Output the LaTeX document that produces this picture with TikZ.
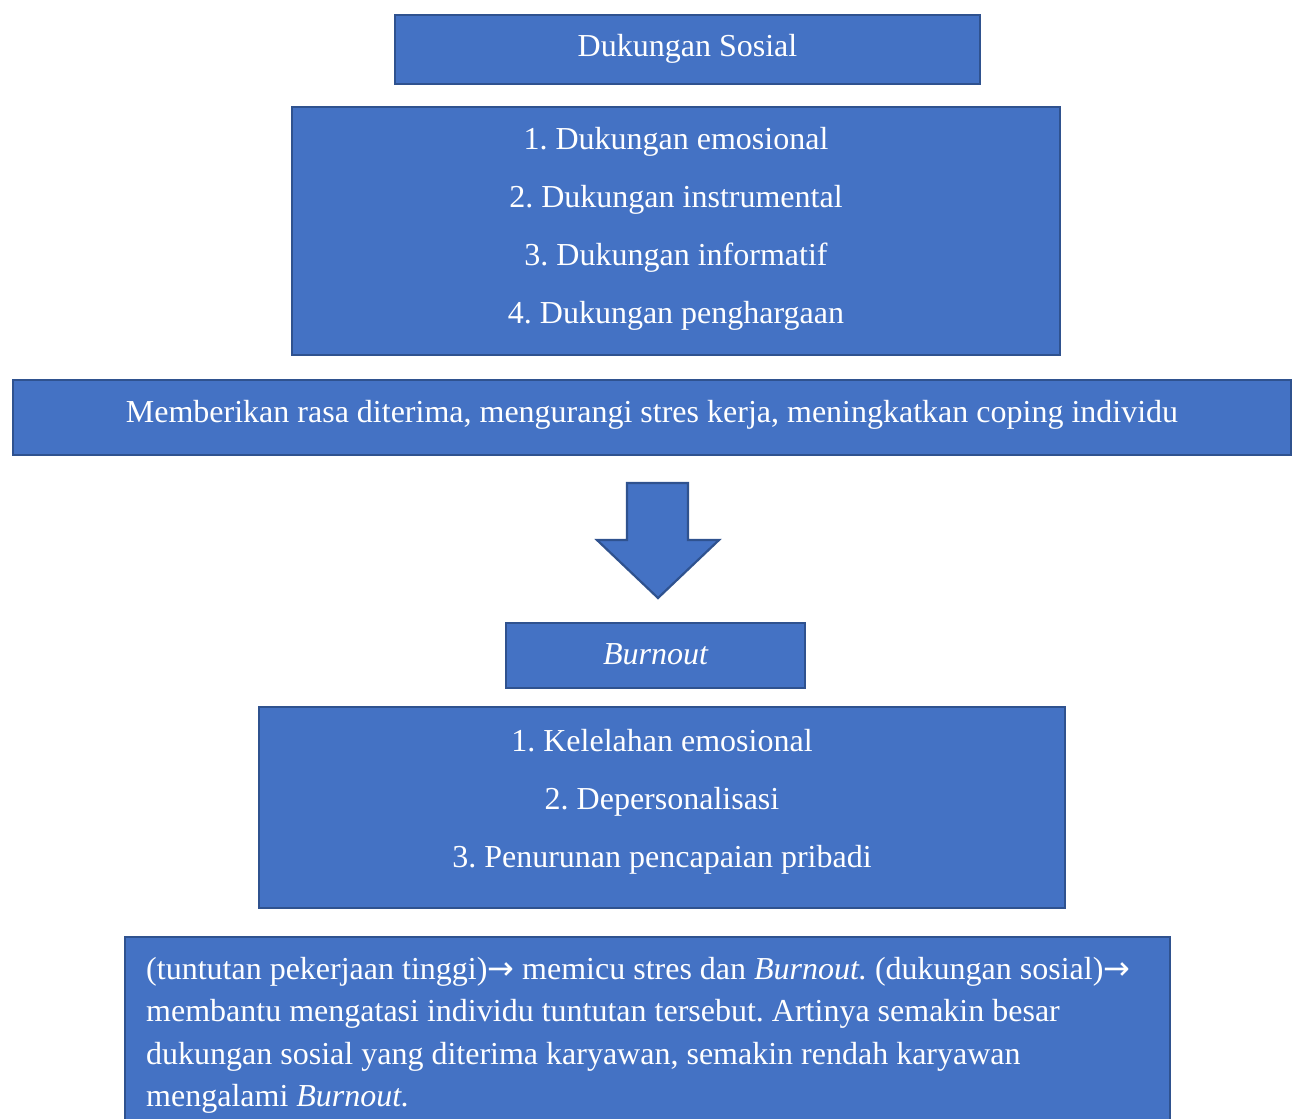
\documentclass[tikz,border=0pt]{standalone}
\usepackage{fontspec}
\setmainfont{Liberation Serif}
\newfontfamily\panahfont{DejaVu Sans}
\newcommand*{\panah}{{\panahfont →}}
\newcommand*{\kaki}[1]{\rule[-#1pt]{0pt}{0pt}}
\frenchspacing
\definecolor{blokisi}{HTML}{4472C4}
\definecolor{bloktepi}{HTML}{2F528F}

\begin{document}
\begin{tikzpicture}[%
        x = 1pt, y = -1pt,
        blok/.style = {
            draw = bloktepi, fill = blokisi, line width = 2.2pt,
            text = white, inner sep = 0pt, align = center,
            font = \fontsize{32}{58}\selectfont
        },
        ukuran/.style args = {#1:#2}{
            minimum width = #1pt, minimum height = #2pt
        }
    ]

        % Page frame, same size as the reference.
        \useasboundingbox (0, 0) rectangle (1296, 1119);
        \clip (0, 0) rectangle (1296, 1119);

        % Upper half: social support.
        \node[blok, ukuran = 585:69, text depth = 9pt] (sosial) at (687.5, 49.5)
            {Dukungan Sosial};
        \node[blok, ukuran = 768:248] (dimensi_sosial) at (676.0, 231.0)
            {1. Dukungan emosional\\
             2. Dukungan instrumental\\
             3. Dukungan informatif\\
             4. Dukungan penghargaan\kaki{11}};
        \node[blok, ukuran = 1278:75, text depth = 13pt] (manfaat) at (652.0, 417.5)
            {Memberikan rasa diterima, mengurangi stres kerja, meningkatkan coping individu};

        % Block arrow between the two halves.
        \draw[blok]
            (627, 483) -- (688, 483) -- (688, 540) -- (719, 540)
            -- (658, 598) -- (597, 540) -- (627, 540) -- cycle;

        % Lower half: burnout.
        \node[blok, ukuran = 299:65, text depth = 2pt] (burnout) at (655.5, 655.5)
            {\itshape Burnout};
        \node[blok, ukuran = 806:201] (dimensi_burnout) at (662.0, 807.5)
            {1. Kelelahan emosional\\
             2. Depersonalisasi\\
             3. Penurunan pencapaian pribadi\kaki{19}};

        % Closing note, runs past the bottom edge.
        \draw[blok] (125, 937) rectangle (1170, 1140);
        \node[anchor = north west, text = white, align = left, inner sep = 0pt,
              font = \fontsize{32}{42.5}\selectfont] (catatan) at (146, 957)
            {(tuntutan pekerjaan tinggi)\panah{} memicu stres dan \textit{Burnout.} (dukungan sosial)\panah\\
             membantu mengatasi individu tuntutan tersebut. Artinya semakin besar\\
             dukungan sosial yang diterima karyawan, semakin rendah karyawan\\
             mengalami \textit{Burnout.}};
    \end{tikzpicture}
\end{document}
